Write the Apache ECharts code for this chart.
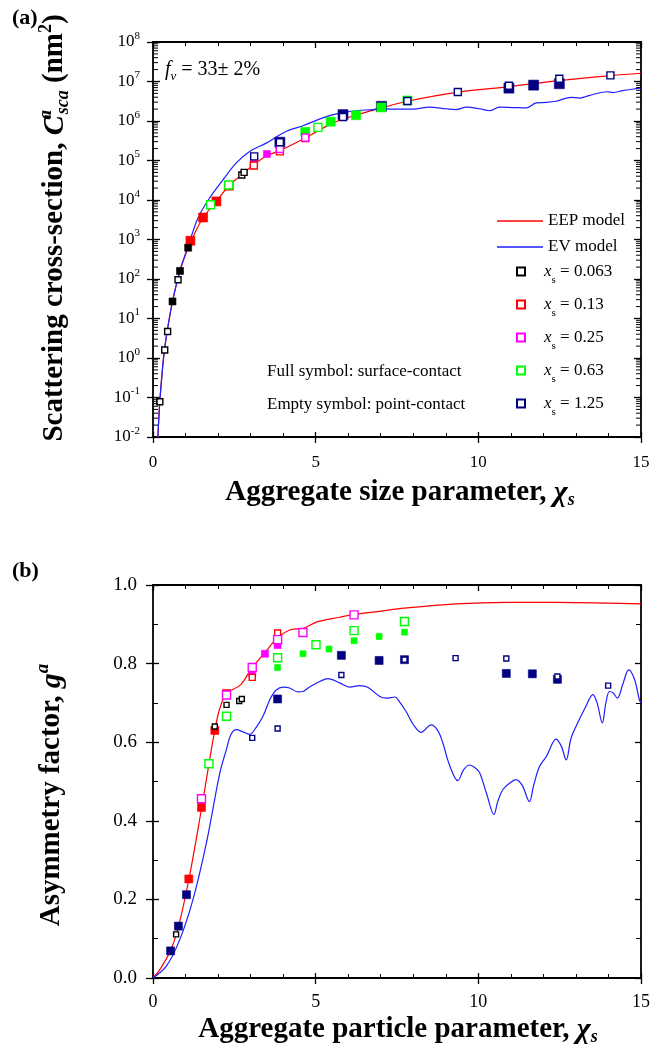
<!DOCTYPE html>
<html><head><meta charset="utf-8">
<script src="https://cdn.jsdelivr.net/npm/echarts@6/dist/echarts.min.js"></script>
<style>html,body{margin:0;padding:0;background:#fff}#c{width:656px;height:1050px}</style>
</head><body><div id="c"></div>
<script>
// ---------------- DATA ----------------
// Panel (a): scattering cross-section (nm^2) vs aggregate size parameter
const topEepX = [0.15,0.21,0.30,0.36,0.45,0.60,0.83,1.08,1.15,1.54,1.95,2.33,2.77,3.10,3.50,3.90,4.68,5.07,5.46,5.84,6.24,7.02,7.82,9.37,10.94,12.49,14.06,15];
const topEepY = [0.01,0.079,0.63,1.8,5.6,27,160,620,850,3600,9200,23000,46000,79000,132000,178000,372000,562000,832000,1120000,1410000,2140000,3160000,5370000,7410000,10500000,14100000,16200000];
const topEvX = [0.15,0.21,0.30,0.36,0.45,0.60,0.83,1.08,1.38,1.70,2.15,2.56,2.97,3.48,4.10,4.61,5.22,5.74,6.25,6.76,6.96,7.38,7.99,8.50,9.01,9.32,9.63,10.04,10.34,10.65,11.06,11.47,11.78,12.09,12.39,12.85,13.11,13.31,13.52,13.96,14.13,14.44,14.95,15];
const topEvY = [0.01,0.079,0.63,1.8,5.6,27,165,680,3470,10000,32400,87100,170000,275000,550000,759000,1200000,1580000,1820000,1950000,2040000,2000000,2000000,2240000,2040000,1950000,2240000,2040000,1820000,2240000,2190000,2140000,2880000,2950000,3160000,3980000,3800000,4170000,4680000,5500000,5250000,5890000,6760000,6920000];

const topBlackEmpty = [[0.21,0.078],[0.36,1.6],[0.45,4.7],[0.77,96],[2.73,43000],[2.80,50000]];
const topBlackFull  = [[0.60,27],[0.83,160],[1.08,620]];
const topRedFull    = [[1.15,930],[1.54,3600],[1.95,9200],[2.33,23000]];
const topRedEmpty   = [[3.10,75000],[3.90,170000],[4.68,370000]];
const topMagFull    = [[3.10,83000],[3.50,146000],[3.90,220000]];
const topMagEmpty   = [[3.90,195000],[4.68,380000]];
const topGreenFull  = [[4.68,530000],[5.46,960000],[6.24,1400000],[7.02,2200000],[7.82,3300000]];
const topGreenEmpty = [[1.77,7600],[2.33,24000],[5.07,690000]];
const topNavyFull   = [[3.90,290000],[5.84,1450000],[7.02,2350000],[10.94,6800000],[11.70,8100000],[12.49,8800000]];
const topNavyEmpty  = [[3.11,127000],[3.90,290000],[5.84,1260000],[7.82,3200000],[9.37,5400000],[10.94,7800000],[12.49,11700000],[14.06,14300000]];

// Panel (b): asymmetry factor vs aggregate particle parameter
const botEepX = [0,0.2,0.54,0.78,1.10,1.49,1.72,1.90,2.05,2.26,2.69,3.05,3.47,3.83,4.22,4.63,5.04,5.74,6.18,6.96,7.73,9.30,10.86,12.43,13.99,15];
const botEepY = [0,0.02,0.07,0.13,0.25,0.43,0.545,0.63,0.685,0.724,0.746,0.79,0.831,0.866,0.886,0.89,0.906,0.918,0.925,0.933,0.941,0.952,0.956,0.956,0.954,0.952];
const botEvX = [0,0.41,0.82,1.23,1.64,2.05,2.25,2.40,2.56,2.75,2.97,3.15,3.38,3.60,3.79,4.00,4.20,4.45,4.61,4.80,5.02,5.38,5.74,6.04,6.35,6.60,6.96,7.17,7.43,7.60,7.78,8.00,8.24,8.55,8.75,8.91,9.10,9.37,9.55,9.73,9.90,10.04,10.25,10.48,10.60,10.75,10.95,11.16,11.35,11.57,11.70,11.88,12.10,12.39,12.55,12.70,12.85,13.06,13.30,13.52,13.65,13.81,13.92,14.03,14.15,14.27,14.45,14.62,14.80,14.95,15];
const botEvY = [0,0.03,0.097,0.20,0.343,0.52,0.58,0.62,0.632,0.627,0.620,0.635,0.666,0.71,0.733,0.74,0.738,0.728,0.729,0.74,0.75,0.762,0.751,0.74,0.744,0.74,0.717,0.712,0.715,0.70,0.678,0.645,0.625,0.644,0.63,0.598,0.545,0.502,0.53,0.542,0.535,0.522,0.47,0.416,0.45,0.479,0.495,0.505,0.49,0.449,0.49,0.538,0.565,0.608,0.59,0.555,0.61,0.65,0.69,0.721,0.70,0.649,0.70,0.729,0.725,0.712,0.75,0.784,0.76,0.708,0.70];

const botBlackEmpty = [[0.71,0.111],[1.90,0.640],[2.26,0.695],[2.65,0.705],[2.73,0.710]];
const botRedFull    = [[1.10,0.252],[1.49,0.434],[1.90,0.630],[2.26,0.724]];
const botRedEmpty   = [[3.05,0.765],[3.83,0.878]];
const botMagFull    = [[3.05,0.776],[3.44,0.825],[3.83,0.847]];
const botMagEmpty   = [[1.49,0.456],[2.26,0.720],[3.05,0.790],[3.83,0.861],[4.61,0.879],[6.18,0.924]];
const botGreenFull  = [[3.83,0.790],[4.61,0.825],[5.41,0.837],[6.18,0.858],[6.95,0.869],[7.73,0.880]];
const botGreenEmpty = [[1.72,0.545],[2.26,0.666],[3.83,0.815],[5.01,0.848],[6.18,0.884],[7.73,0.907]];
const botNavyFull   = [[0.54,0.069],[0.78,0.132],[1.03,0.212],[3.83,0.710],[5.79,0.821],[6.95,0.808],[7.73,0.810],[10.86,0.775],[11.66,0.774],[12.43,0.760]];
const botNavyEmpty  = [[3.05,0.611],[3.83,0.635],[5.79,0.771],[7.73,0.810],[9.30,0.814],[10.86,0.813],[12.43,0.767],[13.99,0.744]];

const legendNames = ['xs = 0.063','xs = 0.13','xs = 0.25','xs = 0.63','xs = 1.25'];
const logDecades = [-2,-1,0,1,2,3,4,5,6,7];

// ---------------- CHART ----------------
const FONT = 'Liberation Serif';
const COL = {k:'#000000', r:'#ff0000', m:'#ff00ff', g:'#00ff00', n:'#000080', ev:'#1f1fff'};
const chart = echarts.init(document.getElementById('c'), null, {renderer:'canvas', width:656, height:1050});

function pairs(xs, ys){ return xs.map((x,i)=>[x, ys[i]]); }
function scat(name, data, color, filled, size, xi, yi){
  return {type:'scatter', name, data, xAxisIndex:xi, yAxisIndex:yi, symbol:'rect', symbolSize:size, z:4,
    itemStyle: filled ? {color:color, borderColor:color, borderWidth:0.6, opacity:1}
                      : {color:'#ffffff', borderColor:color, borderWidth:1.4, opacity:1},
    emphasis:{disabled:true}, silent:true};
}
function line(name, data, color, xi, yi){
  return {type:'line', name, data, xAxisIndex:xi, yAxisIndex:yi, smooth:0.35, showSymbol:false, symbol:'none',
    lineStyle:{color, width:1.2}, itemStyle:{color}, z:2, silent:true, emphasis:{disabled:true}};
}
function xAxes(grid, fs, margin){
  const c = {gridIndex:grid, type:'value', min:0, max:15, interval:5, splitLine:{show:false}};
  return [
    Object.assign({}, c, {position:'bottom', axisLine:{onZero:false, lineStyle:{color:'#000', width:1.8}},
      axisTick:{inside:true, length:5, lineStyle:{color:'#000', width:1.3}},
      minorTick:{show:true, splitNumber:5, length:4, lineStyle:{color:'#000', width:1}},
      axisLabel:{margin:margin, color:'#000', fontFamily:FONT, fontSize:fs}}),
    Object.assign({}, c, {position:'bottom', axisLine:{show:false, onZero:false},
      axisTick:{inside:false, length:6, lineStyle:{color:'#000', width:1.3}}, axisLabel:{show:false}}),
    Object.assign({}, c, {position:'top', axisLine:{onZero:false, lineStyle:{color:'#000', width:1.8}},
      axisTick:{inside:true, length:6, lineStyle:{color:'#000', width:1.3}},
      minorTick:{show:true, splitNumber:5, length:4, lineStyle:{color:'#000', width:1}},
      axisLabel:{show:false}})
  ];
}
const logC = {gridIndex:0, type:'log', logBase:10, min:0.01, max:1e8, interval:1, splitLine:{show:false}, minorTick:{show:false}};
const gC = {gridIndex:1, type:'value', min:0, max:1, interval:0.2, splitLine:{show:false}};

const minorVals = [];
logDecades.forEach(k => { for (let m = 2; m <= 9; m++) minorVals.push([0, m * Math.pow(10, k)]); });

const richLbl = {
  b:{fontFamily:FONT, fontSize:17, color:'#000'},
  e:{fontFamily:FONT, fontSize:11, color:'#000', padding:[0,0,12,0]}
};

const legendRich = {
  x:{fontFamily:FONT, fontSize:17, fontStyle:'italic', color:'#000', lineHeight:20, padding:[0,0,0,14]},
  s:{fontFamily:FONT, fontSize:11, color:'#000', lineHeight:20, padding:[18,0,0,0]},
  t:{fontFamily:FONT, fontSize:17, color:'#000', lineHeight:20}
};

const TS = 29;
const titleRich = {
  t:{fontFamily:FONT, fontSize:TS, fontWeight:'bold', fill:'#000'},
  c:{fontFamily:FONT, fontSize:TS+1, fontWeight:'bold', fontStyle:'italic', fill:'#000'},
  s:{fontFamily:FONT, fontSize:18, fontWeight:'bold', fontStyle:'italic', fill:'#000', padding:[15,0,0,0]},
  a:{fontFamily:FONT, fontSize:19, fontWeight:'bold', fontStyle:'italic', fill:'#000', padding:[0,0,17,0], width:1},
  sca:{fontFamily:FONT, fontSize:18, fontWeight:'bold', fontStyle:'italic', fill:'#000', padding:[17,0,0,0]},
  two:{fontFamily:FONT, fontSize:18, fontWeight:'bold', fill:'#000', padding:[0,0,17,0]},
  ga:{fontFamily:FONT, fontSize:19, fontWeight:'bold', fontStyle:'italic', fill:'#000', padding:[0,0,17,0]}
};
const plainRich = {
  f:{fontFamily:FONT, fontSize:20, fontStyle:'italic', fill:'#000'},
  v:{fontFamily:FONT, fontSize:13, fontStyle:'italic', fill:'#000', padding:[13,0,0,0]},
  t:{fontFamily:FONT, fontSize:20, fill:'#000'}
};

const option = {
  animation:false,
  backgroundColor:'#fff',
  grid:[{left:153, top:42, width:488, height:395}, {left:153, top:585, width:488, height:393}],
  xAxis: xAxes(0, 17, 17).concat(xAxes(1, 18, 15)),
  yAxis: [
    Object.assign({}, logC, {position:'left', axisLine:{onZero:false, lineStyle:{color:'#000', width:1.8}},
      axisTick:{inside:true, length:7, lineStyle:{color:'#000', width:1.3}},
      axisLabel:{margin:13, formatter:v=>'{b|10}{e|' + Math.round(Math.log10(v)) + '}', rich:richLbl}}),
    Object.assign({}, logC, {position:'left', axisLine:{show:false, onZero:false},
      axisTick:{inside:false, length:6, lineStyle:{color:'#000', width:1.3}}, axisLabel:{show:false}}),
    Object.assign({}, logC, {position:'right', axisLine:{onZero:false, lineStyle:{color:'#000', width:1.8}},
      axisTick:{inside:true, length:7, lineStyle:{color:'#000', width:1.3}}, axisLabel:{show:false}}),
    Object.assign({}, gC, {position:'left', axisLine:{onZero:false, lineStyle:{color:'#000', width:1.8}},
      axisTick:{inside:true, length:6, lineStyle:{color:'#000', width:1.3}},
      minorTick:{show:true, splitNumber:2, length:5, lineStyle:{color:'#000', width:1}},
      axisLabel:{margin:16, color:'#000', fontFamily:FONT, fontSize:19, formatter:v=>v.toFixed(1)}}),
    Object.assign({}, gC, {position:'left', axisLine:{show:false, onZero:false},
      axisTick:{inside:false, length:7, lineStyle:{color:'#000', width:1.3}}, axisLabel:{show:false}}),
    Object.assign({}, gC, {position:'right', axisLine:{onZero:false, lineStyle:{color:'#000', width:1.8}},
      axisTick:{inside:true, length:6, lineStyle:{color:'#000', width:1.3}},
      minorTick:{show:true, splitNumber:2, length:5, lineStyle:{color:'#000', width:1}},
      axisLabel:{show:false}})
  ],
  legend:[
    {data:[{name:'EEP model', icon:'rect'},{name:'EV model', icon:'rect'}], orient:'vertical', left:492, top:206,
     itemWidth:46, itemHeight:1.6, itemGap:6, selectedMode:false,
     textStyle:{fontFamily:FONT, fontSize:17, color:'#000', lineHeight:20}},
    {data:legendNames, orient:'vertical', left:511, top:252, itemWidth:8, itemHeight:8, itemGap:4, selectedMode:false,
     formatter:n=>'{x|x}{s|s}{t| = ' + n.split('= ')[1] + '}',
     textStyle:{fontFamily:FONT, fontSize:17, color:'#000', lineHeight:20, rich:legendRich}}
  ],
  graphic:[
    {type:'text', x:12, y:18, style:{text:'(a)', fontFamily:FONT, fontSize:22, fontWeight:'bold', fill:'#000', verticalAlign:'middle'}},
    {type:'text', x:12, y:571, style:{text:'(b)', fontFamily:FONT, fontSize:22, fontWeight:'bold', fill:'#000', verticalAlign:'middle'}},
    {type:'text', x:165, y:70, style:{text:'{f|f}{v|v}{t| = 33± 2%}', rich:plainRich, fontFamily:FONT, fontSize:20, fill:'#000', verticalAlign:'middle'}},
    {type:'text', x:267, y:372, style:{text:'Full symbol: surface-contact', fontFamily:FONT, fontSize:17, fill:'#000', verticalAlign:'middle'}},
    {type:'text', x:267, y:405, style:{text:'Empty symbol: point-contact', fontFamily:FONT, fontSize:17, fill:'#000', verticalAlign:'middle'}},
    {type:'text', x:400, y:493, style:{text:'{t|Aggregate size parameter, }{c|χ}{s|s}', rich:titleRich, fontFamily:FONT, fontSize:TS, fontWeight:'bold', fill:'#000', align:'center', verticalAlign:'middle'}},
    {type:'text', x:398, y:1030, style:{text:'{t|Aggregate particle parameter, }{c|χ}{s|s}', rich:titleRich, fontFamily:FONT, fontSize:TS, fontWeight:'bold', fill:'#000', align:'center', verticalAlign:'middle'}},
    {type:'text', x:55, y:228, rotation:Math.PI/2, style:{text:'{t|Scattering cross-section, }{c|C}{a|a}{sca|sca}{t| (nm}{two|2}{t|)}', rich:titleRich, fontFamily:FONT, fontSize:TS, fontWeight:'bold', fill:'#000', align:'center', verticalAlign:'middle'}},
    {type:'text', x:52, y:795, rotation:Math.PI/2, style:{text:'{t|Asymmetry factor, }{c|g}{ga|a}', rich:titleRich, fontFamily:FONT, fontSize:TS, fontWeight:'bold', fill:'#000', align:'center', verticalAlign:'middle'}}
  ],
  series:[
    line('EEP model', pairs(topEepX, topEepY), COL.r, 0, 0),
    line('EV model', pairs(topEvX, topEvY), COL.ev, 0, 0),
    line('EEP model', pairs(botEepX, botEepY), COL.r, 3, 3),
    line('EV model', pairs(botEvX, botEvY), COL.ev, 3, 3),
    {type:'custom', name:'minor', xAxisIndex:0, yAxisIndex:0, silent:true, clip:false, z:5, data:minorVals,
     renderItem:(params, api)=>{
       const v = api.value(1);
       const pl = api.coord([0, v]); const pr = api.coord([15, v]);
       return {type:'group', children:[
         {type:'line', shape:{x1:pl[0], y1:pl[1], x2:pl[0]+5, y2:pl[1]}, style:{stroke:'#000', lineWidth:1}},
         {type:'line', shape:{x1:pr[0], y1:pr[1], x2:pr[0]-5, y2:pr[1]}, style:{stroke:'#000', lineWidth:1}}
       ]};
     }},
    // panel (a) markers
    scat('n full a', topNavyFull, COL.n, true, 10, 0, 0),
    scat('g full a', topGreenFull, COL.g, true, 9, 0, 0),
    scat('r full a', topRedFull, COL.r, true, 9, 0, 0),
    scat('k full a', topBlackFull, COL.k, true, 7, 0, 0),
    scat('m full a', topMagFull, COL.m, true, 7, 0, 0),
    scat('xs = 0.63', topGreenEmpty, COL.g, false, 8, 0, 0),
    scat('xs = 0.13', topRedEmpty, COL.r, false, 7, 0, 0),
    scat('xs = 0.25', topMagEmpty, COL.m, false, 7, 0, 0),
    scat('xs = 0.063', topBlackEmpty, COL.k, false, 6, 0, 0),
    scat('xs = 1.25', topNavyEmpty, COL.n, false, 7, 0, 0),
    // panel (b) markers
    scat('n full b', botNavyFull, COL.n, true, 8, 3, 3),
    scat('g full b', botGreenFull, COL.g, true, 6, 3, 3),
    scat('r full b', botRedFull, COL.r, true, 8, 3, 3),
    scat('m full b', botMagFull, COL.m, true, 7, 3, 3),
    scat('xs = 0.63', botGreenEmpty, COL.g, false, 8, 3, 3),
    scat('xs = 0.13', botRedEmpty, COL.r, false, 6, 3, 3),
    scat('xs = 0.25', botMagEmpty, COL.m, false, 8, 3, 3),
    scat('xs = 0.063', botBlackEmpty, COL.k, false, 5, 3, 3),
    scat('xs = 1.25', botNavyEmpty, COL.n, false, 5, 3, 3)
  ]
};
chart.setOption(option);
</script></body></html>
